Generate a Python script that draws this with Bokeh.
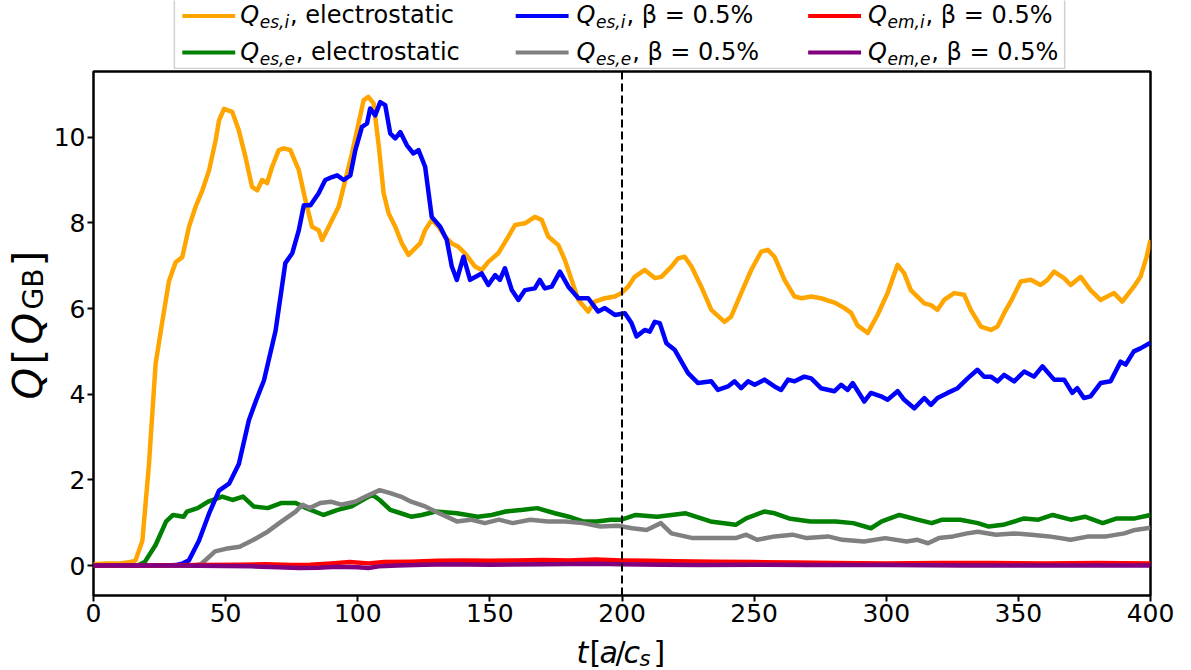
import math
from bokeh.plotting import figure
from bokeh.models import Range1d, Span, FixedTicker
from bokeh.layouts import gridplot
from bokeh.embed import file_html
from bokeh.resources import INLINE
from bokeh.core.properties import value

# ---------------- data ----------------
x_ticks = [0, 50, 100, 150, 200, 250, 300, 350, 400]
y_ticks = [0, 2, 4, 6, 8, 10]
t_marker = 200

orange_t = [
    0, 5, 10, 14, 15.9, 18.5, 21, 23.5, 26.1, 28.6,
    31.1, 33.6, 36.1, 38.6, 41.2, 43.7, 46.2, 47.5, 49.4, 52.5,
    55, 57.5, 60, 62, 63.8, 65.7, 67.6, 70.1, 72, 74.5,
    77.7, 80.2, 82.7, 85.2, 86.5, 89, 92.8, 95.3, 97.8, 100.3,
    102.2, 104, 106, 108, 109.8, 111.7, 114.2, 116.7, 119.2, 121.1,
    123.6, 125.5, 128, 130.6, 133, 135.6, 138.1, 140.6, 144.4, 146.9,
    149.4, 153.2, 157, 159.5, 163.3, 167, 169.6, 172.1, 175.9, 178.4,
    180.9, 183.5, 187.2, 189.7, 193.5, 197.3, 199.8, 202.3, 204.8, 208.6,
    212.4, 214.9, 218.7, 221.2, 223.7, 226.3, 230, 233.8, 238.8, 241.3,
    245.1, 248.9, 252.7, 255.2, 257.7, 261.5, 265.3, 268, 271.6, 275.3,
    280.4, 284.2, 286.7, 289.2, 293, 296.7, 300.5, 304.3, 306.8, 309.3,
    314.4, 316.9, 319.4, 321.9, 325.7, 329.5, 332, 335.8, 339.6, 342.1,
    344.6, 347.1, 350.9, 354.7, 358.4, 361, 363.5, 367.3, 369.8, 373.6,
    377.3, 381.1, 386.2, 389.3, 393.7, 396.2, 398.5, 400]
orange_q = [
    0.03, 0.05, 0.05, 0.08, 0.12, 0.58, 2.37, 4.71, 5.72, 6.65,
    7.08, 7.20, 7.90, 8.37, 8.76, 9.22, 9.92, 10.39, 10.66, 10.59,
    10.16, 9.54, 8.84, 8.76, 9.00, 8.93, 9.31, 9.70, 9.74, 9.70,
    9.23, 8.53, 7.91, 7.83, 7.60, 7.91, 8.38, 9.00, 9.62, 10.32,
    10.86, 10.94, 10.79, 9.77, 8.69, 8.22, 7.91, 7.52, 7.25, 7.37,
    7.52, 7.83, 8.07, 7.91, 7.68, 7.52, 7.44, 7.29, 6.98, 6.90,
    7.09, 7.29, 7.68, 7.95, 7.99, 8.14, 8.07, 7.68, 7.48, 7.13,
    6.67, 6.20, 5.93, 6.16, 6.24, 6.28, 6.36, 6.51, 6.74, 6.90,
    6.71, 6.74, 6.98, 7.17, 7.21, 6.98, 6.51, 5.97, 5.69, 5.81,
    6.36, 6.90, 7.33, 7.37, 7.21, 6.67, 6.28, 6.24, 6.28, 6.24,
    6.14, 6.01, 5.90, 5.60, 5.43, 5.85, 6.36, 7.02, 6.82, 6.43,
    6.12, 6.08, 5.97, 6.20, 6.36, 6.32, 5.97, 5.58, 5.50, 5.58,
    5.89, 6.16, 6.63, 6.67, 6.55, 6.67, 6.86, 6.71, 6.55, 6.74,
    6.43, 6.20, 6.36, 6.16, 6.51, 6.74, 7.20, 7.60]

blue_t = [
    0, 20, 28, 31, 33.5, 36.1, 39.9, 43.7, 47.5, 51.3,
    55, 58.8, 61.5, 64.5, 68.9, 72.6, 75.2, 77.7, 79.6, 82.1,
    85.2, 87.7, 90.3, 92.2, 94.7, 97.2, 99.1, 101.6, 103.5, 104.7,
    106.6, 108.5, 110.4, 112.3, 114.2, 116.1, 118.6, 121.1, 123, 125.5,
    128, 131.2, 133.7, 135.6, 137.5, 140, 142.5, 146.9, 149.4, 152,
    153.8, 155.7, 158.3, 160.8, 163.3, 167, 168.9, 170.8, 173.4, 176.5,
    179.7, 183.5, 187.2, 191, 193.5, 197.3, 201.1, 203.6, 205.5, 208.6,
    210.5, 212.4, 214.3, 216.8, 219.9, 222.5, 225, 228.8, 233.8, 236.3,
    240.1, 242.6, 245.1, 247.7, 250.2, 253.9, 257.7, 260.2, 262.8, 265.3,
    269, 271.6, 275.3, 280.4, 282.9, 285.4, 287.3, 291.7, 294.2, 298,
    300.5, 304.3, 306.8, 310.6, 314.4, 316.9, 319.4, 323.2, 327, 330.8,
    334.5, 337, 339.6, 342.1, 344.6, 348.4, 352.2, 355.9, 359.1, 363.5,
    367.3, 370.4, 372.3, 374.8, 377.3, 381.1, 384.9, 388.7, 390.6, 393.7,
    396.2, 400]
blue_q = [
    0, 0, 0, 0.01, 0.04, 0.12, 0.58, 1.21, 1.75, 1.91,
    2.37, 3.39, 3.85, 4.32, 5.48, 7.06, 7.29, 7.83, 8.41, 8.41,
    8.69, 9.00, 9.07, 9.11, 9.00, 9.11, 9.70, 10.24, 10.32, 10.67,
    10.51, 10.82, 10.75, 10.09, 9.97, 10.12, 9.81, 9.62, 9.70, 9.31,
    8.14, 7.91, 7.60, 6.98, 6.67, 7.21, 6.67, 6.82, 6.55, 6.78,
    6.67, 6.94, 6.43, 6.20, 6.43, 6.47, 6.67, 6.47, 6.51, 6.86,
    6.51, 6.24, 6.24, 5.93, 6.01, 5.85, 5.89, 5.66, 5.35, 5.50,
    5.46, 5.69, 5.66, 5.19, 5.04, 4.76, 4.49, 4.26, 4.30, 4.10,
    4.18, 4.30, 4.14, 4.30, 4.22, 4.34, 4.18, 4.10, 4.34, 4.30,
    4.41, 4.37, 4.14, 4.07, 4.22, 4.10, 4.26, 3.83, 4.03, 3.95,
    3.87, 4.07, 3.87, 3.67, 3.91, 3.75, 3.91, 4.03, 4.14, 4.37,
    4.57, 4.41, 4.41, 4.30, 4.45, 4.30, 4.53, 4.41, 4.65, 4.34,
    4.34, 4.03, 4.14, 3.91, 3.95, 4.26, 4.30, 4.76, 4.69, 5.00,
    5.07, 5.20]

green_t = [
    0, 10, 16.8, 19.5, 23.5, 27.5, 30.1, 34.1, 35.4, 39.4,
    43.4, 48.7, 52.6, 56.6, 60.6, 65.9, 71.2, 76.5, 80.5, 87.1,
    92.4, 97.7, 103, 105.6, 108.3, 112.3, 116.3, 120.2, 124.2, 129.5,
    137.5, 145.4, 150.7, 156, 162.6, 167.9, 174.6, 179.9, 185.2, 190.5,
    195.8, 199.8, 205.2, 213.3, 224.1, 233.5, 243, 247, 253.8, 257.8,
    263.2, 271.3, 280.8, 287.5, 294.2, 298.3, 305, 311.8, 317.2, 321.2,
    328, 334.7, 338.8, 344.2, 352.2, 357.6, 363, 369.8, 375.2, 381.9,
    387.3, 394.1, 400]
green_q = [
    0, 0, 0.0, 0.09, 0.48, 1.03, 1.18, 1.14, 1.26, 1.34,
    1.49, 1.61, 1.53, 1.61, 1.38, 1.34, 1.46, 1.46, 1.34, 1.18,
    1.30, 1.38, 1.57, 1.65, 1.53, 1.30, 1.22, 1.14, 1.18, 1.26,
    1.22, 1.14, 1.18, 1.26, 1.30, 1.34, 1.22, 1.14, 1.03, 1.03,
    1.07, 1.07, 1.18, 1.14, 1.22, 1.03, 0.95, 1.10, 1.26, 1.22,
    1.10, 1.03, 1.03, 0.99, 0.87, 1.03, 1.18, 1.07, 0.99, 1.07,
    1.07, 0.99, 0.91, 0.95, 1.10, 1.07, 1.18, 1.07, 1.14, 0.99,
    1.10, 1.10, 1.18]

gray_t = [
    0, 20, 38, 40.7, 46, 50, 55.3, 60.6, 65.9, 71.2,
    76.5, 79.1, 81.8, 85.8, 89.8, 93.7, 99, 103, 108.3, 112.3,
    116.3, 120.2, 125.5, 130.8, 137.5, 142.8, 148.1, 153.4, 158.6, 165.3,
    171.9, 178.5, 185.2, 191.8, 198.4, 203.9, 209.3, 214.7, 218.7, 226.8,
    234.9, 243, 247, 251.1, 257.8, 264.5, 269.9, 278, 283.4, 291.6,
    299.6, 307.7, 311.8, 315.8, 319.9, 325.3, 330.6, 334.7, 341.5, 348.2,
    354.9, 361.7, 369.8, 376.6, 383.3, 390.1, 394.1, 400]
gray_q = [
    0, 0, 0.0, 0.03, 0.33, 0.39, 0.44, 0.60, 0.79, 1.03,
    1.26, 1.42, 1.34, 1.46, 1.49, 1.42, 1.49, 1.61, 1.76, 1.69,
    1.61, 1.49, 1.38, 1.22, 1.03, 1.07, 0.99, 1.07, 0.99, 1.07,
    1.03, 1.03, 0.99, 0.91, 0.93, 0.87, 0.83, 0.99, 0.75, 0.64,
    0.64, 0.64, 0.72, 0.60, 0.68, 0.72, 0.64, 0.68, 0.60, 0.56,
    0.64, 0.56, 0.60, 0.52, 0.64, 0.68, 0.75, 0.79, 0.72, 0.75,
    0.72, 0.68, 0.60, 0.68, 0.68, 0.75, 0.83, 0.88]

red_t = [0, 20, 40, 55, 65, 75, 82, 90, 97, 104, 110, 120, 130, 140, 150, 160,
         170, 180, 190, 200, 210, 220, 235, 250, 265, 280, 300, 320, 340, 360, 380, 400]
red_q = [0.0, 0.0, 0.01, 0.02, 0.03, 0.01, 0.02, 0.05, 0.08, 0.05, 0.08, 0.09, 0.11, 0.12, 0.11, 0.12,
         0.13, 0.12, 0.14, 0.12, 0.11, 0.10, 0.09, 0.08, 0.07, 0.06, 0.05, 0.06, 0.06, 0.05, 0.06, 0.05]

purple_t = [0, 30, 50, 60, 70, 78, 85, 92, 100, 104, 108, 115, 125, 135, 150, 170,
            190, 200, 215, 230, 250, 270, 300, 330, 360, 400]
purple_q = [0, 0, -0.01, -0.02, -0.04, -0.06, -0.05, -0.03, -0.04, -0.06, -0.02, 0.0, 0.02, 0.03, 0.02, 0.03,
            0.04, 0.03, 0.02, 0.01, 0.02, 0.01, 0.01, 0.0, 0.0, 0.0]

# legend entries (column-major order as in the picture)
leg_colors = ["orange", "green", "blue", "gray", "red", "purple"]
leg_sub = ["es,i", "es,e", "es,i", "es,e", "em,i", "em,e"]
leg_rest = [", electrostatic", ", electrostatic", ", β = 0.5%", ", β = 0.5%", ", β = 0.5%", ", β = 0.5%"]

# ---------------- layout (page pixels) ----------------
FONT = "DejaVu Sans"
PAGE_H = 670
YL_W = 50                       # width of the y-label strip
MAIN_W = 1191 - YL_W
BL, BR, BT, BB = 41, 41, 2, 38  # borders of the main plot
LEG_H = 69
FRAME_H = 524
MAIN_H = BT + FRAME_H + BB
XL_H = PAGE_H - LEG_H - MAIN_H
FRAME_L = YL_W + BL             # 91
FRAME_R = YL_W + MAIN_W - BR    # 1150
FRAME_T = LEG_H + BT            # 71
FRAME_B = FRAME_T + FRAME_H     # 595
X0, X1 = 0, 400
Y0, Y1 = -0.70, 11.534
MID = 0.30  # distance (in em) of the "middle" text line above the alphabetic baseline


def helper(width, height, xr, yr, **borders):
    f = figure(width=width, height=height, x_range=Range1d(*xr), y_range=Range1d(*yr),
               output_backend="svg", toolbar_location=None, title=None,
               x_axis_type=None, y_axis_type=None, **borders)
    f.outline_line_color = None
    f.grid.visible = False
    f.background_fill_color = "white"
    f.border_fill_color = "white"
    return f


def tx(f, x, y, s, size, style="normal", angle=0.0):
    """x, y: page pixels of the text's left end on its middle line."""
    f.text(x=[x], y=[PAGE_H - y], text=[s], text_font=value(FONT), text_font_style=style,
           text_font_size=value(f"{size}px"), text_color="black", text_align="left",
           text_baseline="middle", angle=angle)


# ---- main plot ----
p = figure(width=MAIN_W, height=MAIN_H, x_range=Range1d(X0, X1), y_range=Range1d(Y0, Y1),
           output_backend="svg", toolbar_location=None, title=None,
           min_border_left=BL, min_border_right=BR, min_border_top=BT, min_border_bottom=BB)
p.grid.visible = False
p.background_fill_color = "white"
p.border_fill_color = "white"
p.outline_line_color = "black"
p.outline_line_width = 2.5
p.outline_line_alpha = 1.0

p.xaxis.ticker = FixedTicker(ticks=x_ticks)
p.yaxis.ticker = FixedTicker(ticks=y_ticks)
for ax in (p.xaxis, p.yaxis):
    ax.axis_line_color = None
    ax.major_tick_line_color = "black"
    ax.major_tick_line_width = 2
    ax.major_tick_in = 0
    ax.major_tick_out = 6
    ax.minor_tick_line_color = None
    ax.major_label_text_font = FONT
    ax.major_label_text_font_size = "25px"
    ax.major_label_text_color = "black"
p.xaxis.major_label_standoff = 2
p.yaxis.major_label_standoff = 2

series = [
    (orange_t, orange_q, "orange"),
    (green_t, green_q, "green"),
    (blue_t, blue_q, "blue"),
    (gray_t, gray_q, "gray"),
    (red_t, red_q, "red"),
    (purple_t, purple_q, "purple"),
]
for tt, qq, col in series:
    p.line(tt, qq, line_color=col, line_width=4.5, line_join="round")

p.add_layout(Span(location=t_marker, dimension="height", line_color="black",
                  line_width=2, line_dash="8 4"))

# ---- legend strip above the plot (coordinates = page pixels) ----
lg = helper(MAIN_W, LEG_H, (FRAME_L, FRAME_R), (PAGE_H - LEG_H, PAGE_H),
            min_border_left=BL, min_border_right=BR, min_border_top=0, min_border_bottom=0)
lg.quad(left=172, right=1064, bottom=PAGE_H - 68, top=PAGE_H + 30, fill_color=None,
        line_color="#d0d0d0", line_width=1.5)

col_line_x = [180, 514, 807]
col_q_x = [238, 575, 867]
row_y = [15.5, 52]
LINE_LEN = 53
EM = {"e": 0.615, "s": 0.521, ",": 0.318, "i": 0.278, "m": 0.974}
MAIN_PX, SUB_PX = 24, 17
for k, colr in enumerate(leg_colors):
    c, r = divmod(k, 2)
    ly = row_y[r]
    base = ly + 6.6                       # alphabetic baseline of the row
    lg.line([col_line_x[c], col_line_x[c] + LINE_LEN], [PAGE_H - ly, PAGE_H - ly],
            line_color=colr, line_width=4)
    qx = col_q_x[c]
    tx(lg, qx, base - MID * MAIN_PX, "Q", MAIN_PX, "italic")
    sx = qx + 19.5
    tx(lg, sx, base + 4.5 - MID * SUB_PX, leg_sub[k], SUB_PX, "italic")
    sw = sum(EM[ch] for ch in leg_sub[k]) * SUB_PX
    tx(lg, sx + sw + 1, base - MID * MAIN_PX, leg_rest[k], MAIN_PX)

# ---- y label strip:  Q [Q_GB]  (rotated; baselines given as page x) ----
yl = helper(YL_W, MAIN_H, (0, YL_W), (PAGE_H - FRAME_B, PAGE_H - FRAME_T),
            min_border_left=0, min_border_right=0, min_border_top=BT, min_border_bottom=BB)
half_pi = math.pi / 2
YB_BIG, YB_SUB = 39, 41
tx(yl, YB_BIG - MID * 40, 399, "Q", 40, "italic", half_pi)
tx(yl, YB_BIG - MID * 40, 364, "[", 40, "normal", half_pi)
tx(yl, YB_BIG - MID * 40, 344, "Q", 40, "italic", half_pi)
tx(yl, YB_SUB - MID * 28, 309, "GB", 28, "normal", half_pi)
tx(yl, YB_BIG - MID * 40, 266, "]", 40, "normal", half_pi)

# ---- x label strip:  t [a/c_s] ----
xl = helper(MAIN_W, XL_H, (FRAME_L, FRAME_R), (0, XL_H),
            min_border_left=BL, min_border_right=BR, min_border_top=0, min_border_bottom=0)
XB = 661
tx(xl, 575, XB - MID * 30, "t", 30, "italic")
tx(xl, 588, XB - MID * 30, "[", 30)
tx(xl, 598, XB - MID * 30, "a", 30, "italic")
tx(xl, 614, XB - MID * 30, "/", 30)
tx(xl, 622, XB - MID * 30, "c", 30, "italic")
tx(xl, 638, XB + 3.5 - MID * 21, "s", 21, "italic")
tx(xl, 652, XB - MID * 30, "]", 30)

grid = gridplot([[None, lg], [yl, p], [None, xl]], toolbar_location=None)
open("out.html", "w").write(file_html(grid, INLINE))
